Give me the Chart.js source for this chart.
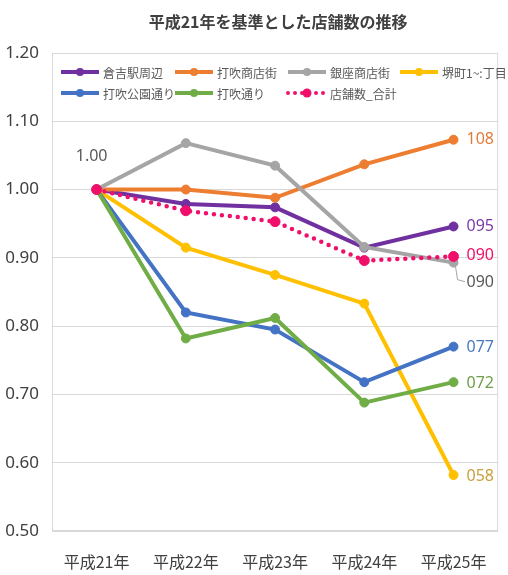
<!DOCTYPE html>
<html><head><meta charset="utf-8">
<script src="https://cdn.jsdelivr.net/npm/chart.js@4"></script>
<style>html,body{margin:0;padding:0;background:#fff;overflow:hidden}#wrap{width:508px;height:575px;position:relative}</style>
</head><body><div id="wrap"><canvas id="c" width="508" height="575"></canvas></div>
<script>
const categories = ['平成21年','平成22年','平成23年','平成24年','平成25年'];
const seriesNames = ['倉吉駅周辺','打吹商店街','銀座商店街','堺町1~:丁目','打吹公園通り','打吹通り','店舗数_合計'];
const kurayoshiEki = [1.00, 0.979, 0.974, 0.915, 0.946];
const utsubukiShotengai = [1.00, 1.000, 0.988, 1.037, 1.073];
const ginzaShotengai = [1.00, 1.068, 1.035, 0.916, 0.893];
const sakaimachi = [1.00, 0.915, 0.875, 0.833, 0.582];
const utsubukiKoen = [1.00, 0.820, 0.795, 0.718, 0.770];
const utsubukiDori = [1.00, 0.782, 0.812, 0.688, 0.718];
const storeTotal = [1.00, 0.969, 0.953, 0.896, 0.902];
const endLabels = ['095', '108', '090', '058', '077', '072', '090'];
const firstLabel = '1.00';
const yMin = 0.5, yMax = 1.2, yStep = 0.1;

const colors = ['#7030A0', '#ED7D31', '#A5A5A5', '#FFC000', '#4472C4', '#70AD47', '#F0106B'];
const labelColors = ['#7A3DA8', '#E07B3C', '#595959', '#C9A03C', '#4A78C4', '#6E9F48', '#F0106B'];
const allSeries = [kurayoshiEki, utsubukiShotengai, ginzaShotengai, sakaimachi, utsubukiKoen, utsubukiDori, storeTotal];

const NUMFONT = '"Liberation Sans Narrow", "Noto Sans", sans-serif';
const JPFONT = '"Noto Sans CJK JP", sans-serif';

const datasets = allSeries.map((d, i) => {
  const isTotal = i === 6;
  return {
    label: seriesNames[i],
    data: d,
    borderColor: colors[i],
    backgroundColor: colors[i],
    pointBackgroundColor: colors[i],
    pointBorderColor: colors[i],
    borderWidth: isTotal ? 4.5 : 4,
    borderDash: isTotal ? [0, 8] : [],
    borderCapStyle: isTotal ? 'round' : 'butt',
    pointRadius: isTotal ? 5 : 4.5,
    pointBorderWidth: 1,
    tension: 0,
    fill: false,
    order: 10 - i
  };
});

const overlay = {
  id: 'overlay',
  beforeDatasetsDraw(chart) {
    const ctx = chart.ctx, a = chart.chartArea;
    ctx.save();
    ctx.strokeStyle = '#d9d9d9';
    ctx.lineWidth = 1;
    ctx.strokeRect(a.left + 0.5, a.top + 0.5, a.right - a.left - 1, a.bottom - a.top - 1);
    ctx.restore();
  },
  afterDraw(chart) {
    const ctx = chart.ctx, a = chart.chartArea;
    ctx.save();
    // title
    ctx.fillStyle = '#404040';
    ctx.font = 'bold 16px ' + JPFONT;
    ctx.textAlign = 'center';
    ctx.textBaseline = 'middle';
    ctx.fillText('平成21年を基準とした店舗数の推移', (a.left + a.right) / 2 + 3, 22);

    // legend
    const legendPos = [[61, 72], [175, 72], [288, 72], [400, 72], [61, 93], [175, 93], [288, 93]];
    ctx.font = '12px ' + JPFONT;
    ctx.textAlign = 'left';
    legendPos.forEach((p, i) => {
      const [x0, y] = p;
      ctx.strokeStyle = colors[i];
      ctx.fillStyle = colors[i];
      ctx.lineWidth = 4;
      if (i === 6) {
        ctx.setLineDash([0, 7]);
        ctx.lineCap = 'round';
      } else {
        ctx.setLineDash([]);
        ctx.lineCap = 'butt';
      }
      ctx.beginPath();
      ctx.moveTo(x0, y);
      ctx.lineTo(x0 + 38, y);
      ctx.stroke();
      ctx.setLineDash([]);
      ctx.beginPath();
      ctx.arc(x0 + 19, y, i === 6 ? 4.5 : 4, 0, Math.PI * 2);
      ctx.fill();
      ctx.fillStyle = '#595959';
      ctx.fillText(seriesNames[i], x0 + 42, y + 1);
    });

    // end labels
    ctx.font = '16px ' + NUMFONT;
    ctx.textBaseline = 'middle';
    const dyMap = [0, 0, 20, 1, 1, 1, -1];
    chart.data.datasets.forEach((ds, i) => {
      const meta = chart.getDatasetMeta(i);
      const pt = meta.data[meta.data.length - 1];
      if (!pt) return;
      const tx = pt.x + 13, ty = pt.y + dyMap[i];
      if (i === 2) {
        ctx.strokeStyle = '#A5A5A5';
        ctx.lineWidth = 1;
        ctx.beginPath();
        ctx.moveTo(pt.x + 2, pt.y + 4);
        ctx.lineTo(pt.x + 4, pt.y + 17);
        ctx.lineTo(pt.x + 11, pt.y + 19);
        ctx.stroke();
      }
      ctx.fillStyle = labelColors[i];
      ctx.fillText(endLabels[i], tx, ty);
    });
    // first label
    const m0 = chart.getDatasetMeta(6);
    const p0 = m0.data[0];
    ctx.fillStyle = '#595959';
    ctx.textAlign = 'center';
    ctx.fillText(firstLabel, p0.x - 5, p0.y - 33);
    ctx.restore();
  }
};

new Chart(document.getElementById('c'), {
  type: 'line',
  data: { labels: categories, datasets },
  options: {
    responsive: false,
    animation: false,
    layout: { padding: { top: 53, right: 0, left: 0, bottom: 0 } },
    plugins: { legend: { display: false }, title: { display: false }, tooltip: { enabled: false } },
    scales: {
      x: {
        offset: true,
        grid: { display: false, drawTicks: false },
        border: { display: false },
        ticks: { color: '#404040', font: { family: JPFONT, size: 16 }, padding: 21, maxRotation: 0, autoSkip: false },
        afterFit(s) { s.height = 44; }
      },
      y: {
        min: yMin, max: yMax,
        grid: { color: '#d9d9d9', drawTicks: false },
        border: { display: false },
        ticks: { stepSize: yStep, callback: v => Number(v).toFixed(2), color: '#404040', font: { family: NUMFONT, size: 17 }, padding: 13 },
        afterFit(s) { s.width = 52; }
      }
    }
  },
  plugins: [overlay]
});
</script></body></html>
